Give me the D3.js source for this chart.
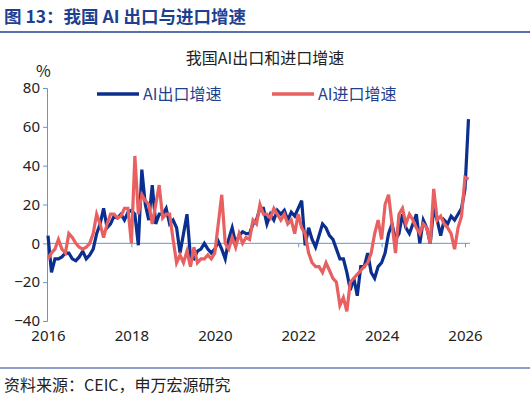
<!DOCTYPE html><html><head><meta charset="utf-8"><script src="https://cdn.jsdelivr.net/npm/d3@7"></script>
<style>body{margin:0;background:#fff;font-family:"Noto Sans CJK SC","Noto Sans",sans-serif}</style></head><body><svg id="c" width="530" height="400"></svg><script>
const years=[2016,2018,2020,2022,2024,2026];
const yTicks=[-40,-20,0,20,40,60,80];
const exportGrowth=[4,-15,-8,-8,-7,-5,-5,-8,-9,-7,-4,-8,
-6,-3,5,10,18,8,10,14,13,15,12,16,
17,15,-1,38,20,12,30,10,15,15,18,10,
12,8,-5,5,15,-7,-8,-4,-3,0,-3,-5,
-3,1,-3,-8,2,8,0,4,6,5,5,10,
12,18,18,10,15,12,17,15,17,12,16,14,
18,22,-1,8,2,-2,4,10,8,4,2,-3,
-8,-8,-15,-24,-18,-27,-12,-12,-5,-15,-18,-12,
-10,-5,5,10,2,5,15,8,5,10,15,0,
12,8,0,18,12,4,12,10,14,12,15,18,
28,64];
const importGrowth=[-8,-5,-3,2,-3,-5,5,3,0,-2,-3,-2,
0,5,15,10,3,10,15,15,13,14,18,18,
0,45,15,25,22,20,10,20,30,13,15,15,
2,-10,-6,-10,-4,-12,-2,-10,-8,-8,-6,-8,
-5,10,25,0,-3,3,-2,5,0,3,2,12,
10,20,15,15,13,18,15,12,15,10,12,5,
15,8,5,-5,-10,-12,-12,-15,-10,-14,-18,-20,
-32,-28,-35,-20,-18,-16,-14,-12,-10,-5,5,12,
2,20,25,10,-5,15,18,10,15,12,8,5,
10,8,0,28,12,14,10,8,5,-3,8,14,
34,33];
const svg=d3.select("#c");
const blue="#0b2f8f",red="#e8605f",tc="#1f3f8f";
svg.append("text").attr("x",4).attr("y",23).attr("fill",tc).attr("font-size",17.5).attr("font-weight","bold").text("图 13：我国 AI 出口与进口增速");
svg.append("line").attr("x1",0).attr("x2",530).attr("y1",32).attr("y2",32).attr("stroke",tc).attr("stroke-width",1.5);
svg.append("text").attr("x",265).attr("y",64).attr("text-anchor","middle").attr("font-size",16).attr("fill","#222").text("我国AI出口和进口增速");
svg.append("text").attr("x",36).attr("y",77).attr("font-size",16).attr("fill","#222").text("%");
const x=d3.scaleLinear().domain([2016,2026]).range([48,465]);
const y=d3.scaleLinear().domain([-40,80]).range([321,88]);
const t=i=>2016+i/12;
const ya=d3.axisLeft(y).tickValues(yTicks).tickSize(4);
const g=svg.append("g").attr("transform","translate(47,0)").call(ya);
g.selectAll("path,line").attr("stroke","#5b9bd5");
g.selectAll("text").attr("font-size",15).attr("fill","#222").attr("font-family","Noto Sans,sans-serif");
const xa=d3.axisBottom(x).tickValues(years).tickFormat(d3.format("d")).tickSize(4);
const gx=svg.append("g").attr("transform",`translate(0,${y(0)})`).call(xa);
gx.select("path").attr("d","M47,0H470");
gx.selectAll("path,line").attr("stroke","#5b9bd5");
gx.selectAll("text").attr("transform",`translate(0,${321-y(0)+2})`).attr("font-size",15).attr("fill","#222").attr("font-family","Noto Sans,sans-serif");
const line=d3.line().x((d,i)=>x(t(i))).y(d=>y(d));
svg.append("path").datum(exportGrowth).attr("d",line).attr("fill","none").attr("stroke",blue).attr("stroke-width",3.2);
svg.append("path").datum(importGrowth).attr("d",line).attr("fill","none").attr("stroke",red).attr("stroke-width",3.2);
[[97,"AI出口增速",blue],[272,"AI进口增速",red]].forEach(([lx,s,c])=>{
svg.append("line").attr("x1",lx).attr("x2",lx+42).attr("y1",94).attr("y2",94).attr("stroke",c).attr("stroke-width",3.5);
svg.append("text").attr("x",lx+46).attr("y",100).attr("font-size",16).attr("fill",tc).text(s);});
svg.append("line").attr("x1",0).attr("x2",530).attr("y1",368).attr("y2",368).attr("stroke",tc).attr("stroke-width",1);
svg.append("text").attr("x",4).attr("y",391).attr("font-size",16).attr("fill","#222").text("资料来源：CEIC，申万宏源研究");
</script></body></html>
